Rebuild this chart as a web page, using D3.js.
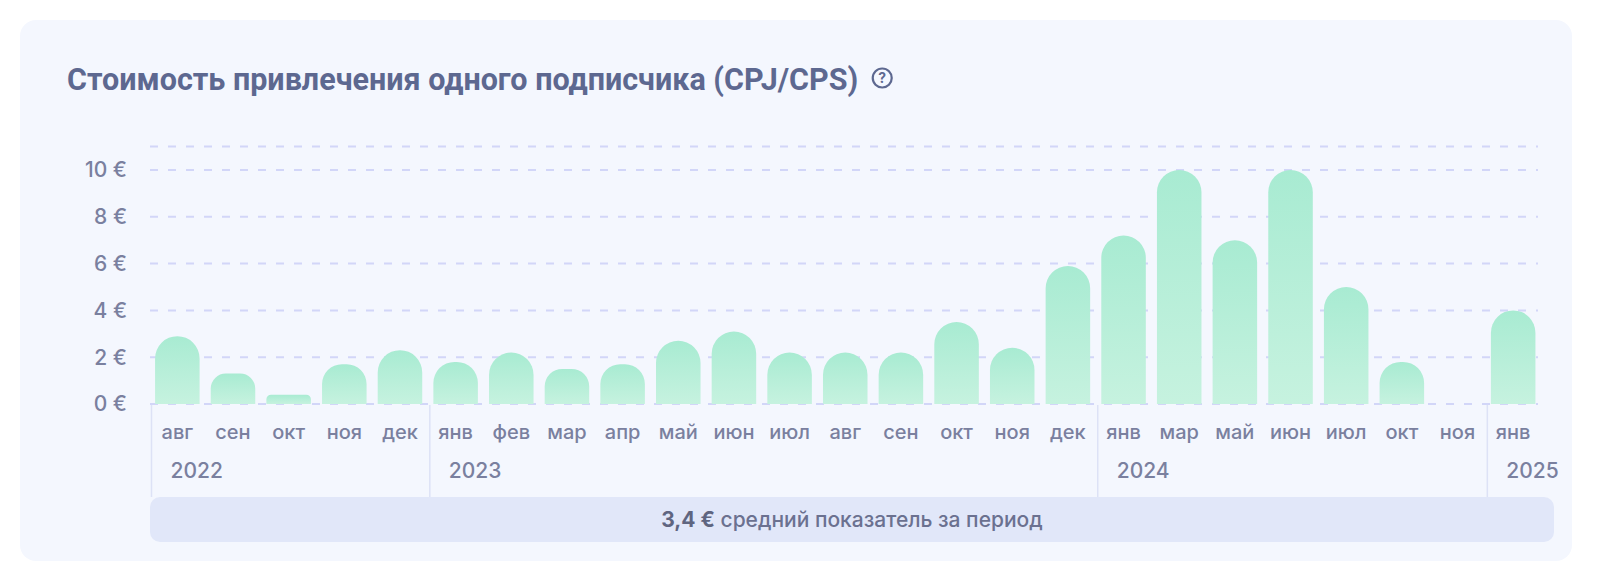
<!DOCTYPE html>
<html>
<head>
<meta charset="utf-8">
<script src="https://cdn.jsdelivr.net/npm/d3@7"></script>
<style>
  html, body { margin: 0; padding: 0; background: #ffffff; }
  #chart { width: 1600px; height: 576px; }
</style>
</head>
<body>
<div id="chart"></div>
<script>
// month labels, the year each one belongs to, and the CPJ/CPS value in euros
const months = ["авг", "сен", "окт", "ноя", "дек",
  "янв", "фев", "мар", "апр", "май", "июн", "июл", "авг", "сен", "окт", "ноя", "дек",
  "янв", "мар", "май", "июн", "июл", "окт", "ноя",
  "янв"];
const years = ["2022", "2022", "2022", "2022", "2022",
  "2023", "2023", "2023", "2023", "2023", "2023", "2023", "2023", "2023", "2023", "2023", "2023",
  "2024", "2024", "2024", "2024", "2024", "2024", "2024",
  "2025"];
const values = [2.9, 1.3, 0.4, 1.7, 2.3,
  1.8, 2.2, 1.5, 1.7, 2.7, 3.1, 2.2, 2.2, 2.2, 3.5, 2.4, 5.9,
  7.2, 10.0, 7.0, 10.0, 5.0, 1.8, 0,
  4.0];
const yTicks = [0, 2, 4, 6, 8, 10];
const yMax = 11;

const title = "Стоимость привлечения одного подписчика (CPJ/CPS)";
const avgLabel = "средний показатель за период";

const width = 1600;
const height = 576;
const font = "Inter, 'Open Sans', sans-serif";
const textColor = "#7a809f";

const data = months.map((m, i) => ({ i, month: m, year: years[i], value: values[i] }));

const svg = d3.select("#chart")
  .append("svg")
  .attr("width", width)
  .attr("height", height);

const defs = svg.append("defs");
const grad = defs.append("linearGradient")
  .attr("id", "barGrad")
  .attr("x1", 0).attr("y1", 0)
  .attr("x2", 0).attr("y2", 1);
grad.append("stop").attr("offset", "0%").attr("stop-color", "#a8ebd2");
grad.append("stop").attr("offset", "100%").attr("stop-color", "#c6f2df");

// card
svg.append("rect")
  .attr("x", 20)
  .attr("y", 20)
  .attr("width", 1552)
  .attr("height", 541)
  .attr("rx", 16)
  .attr("fill", "#f4f7fe");

// title + help icon
const titleText = svg.append("text")
  .attr("x", 67)
  .attr("y", 90)
  .attr("font-family", "Roboto, sans-serif")
  .attr("font-size", "30.5px")
  .attr("font-weight", "700")
  .attr("fill", "#5d6890")
  .text(title);

const tw = titleText.node().getComputedTextLength();
const help = svg.append("g")
  .attr("transform", "translate(" + (67 + tw + 24) + ",78)");
help.append("circle")
  .attr("r", 9.5)
  .attr("fill", "none")
  .attr("stroke", "#5d6890")
  .attr("stroke-width", 2.2);
help.append("text")
  .attr("y", 5)
  .attr("text-anchor", "middle")
  .attr("font-family", font)
  .attr("font-size", "14px")
  .attr("font-weight", "700")
  .attr("fill", "#5d6890")
  .text("?");

const x = d3.scaleBand()
  .domain(data.map(d => d.i))
  .range([149.5, 1541])
  .paddingInner(0.2)
  .paddingOuter(0.1);

const y = d3.scaleLinear()
  .domain([0, yMax])
  .range([404, 146.6]);

const step = x.step();
const bw = x.bandwidth();
const gap = (step - bw) / 2;

// dashed grid
svg.append("g")
  .selectAll("line")
  .data(yTicks.concat([yMax]))
  .join("line")
  .attr("x1", 150)
  .attr("x2", 1538)
  .attr("y1", d => y(d))
  .attr("y2", d => y(d))
  .attr("stroke", "#d2d6f8")
  .attr("stroke-width", 2)
  .attr("stroke-dasharray", "8,10");

// y labels
svg.append("g")
  .selectAll("text")
  .data(yTicks)
  .join("text")
  .attr("x", 127)
  .attr("y", d => y(d))
  .attr("dy", "0.35em")
  .attr("text-anchor", "end")
  .attr("font-family", font)
  .attr("font-size", "21px")
  .attr("font-weight", "500")
  .attr("fill", textColor)
  .text(d => d + " €");

// bars with rounded tops
function barPath(d) {
  const x0 = x(d.i);
  const y0 = y(0);
  const yt = y(d.value);
  const h = y0 - yt;
  if (h <= 0) return null;
  const r = Math.min(bw / 2, h / 2);
  return "M" + x0 + "," + y0 +
    "V" + (yt + r) +
    "A" + r + "," + r + " 0 0 1 " + (x0 + r) + "," + yt +
    "H" + (x0 + bw - r) +
    "A" + r + "," + r + " 0 0 1 " + (x0 + bw) + "," + (yt + r) +
    "V" + y0 + "Z";
}

svg.append("g")
  .selectAll("path")
  .data(data.filter(d => d.value > 0))
  .join("path")
  .attr("d", barPath)
  .attr("fill", "url(#barGrad)");

// month labels
svg.append("g")
  .selectAll("text")
  .data(data)
  .join("text")
  .attr("x", d => x(d.i) + bw / 2)
  .attr("y", 439)
  .attr("text-anchor", "middle")
  .attr("font-family", font)
  .attr("font-size", "20px")
  .attr("font-weight", "500")
  .attr("fill", textColor)
  .text(d => d.month);

// year groups: separator at the first month of each year + year label
const yearStarts = data.filter((d, i) => i === 0 || d.year !== data[i - 1].year);

svg.append("g")
  .selectAll("line")
  .data(yearStarts)
  .join("line")
  .attr("x1", d => x(d.i) - gap + 2)
  .attr("x2", d => x(d.i) - gap + 2)
  .attr("y1", 405)
  .attr("y2", 497)
  .attr("stroke", "#dde2f6")
  .attr("stroke-width", 1.5);

svg.append("g")
  .selectAll("text")
  .data(yearStarts)
  .join("text")
  .attr("x", d => x(d.i) - gap + 21)
  .attr("y", 478)
  .attr("font-family", font)
  .attr("font-size", "21px")
  .attr("font-weight", "500")
  .attr("fill", textColor)
  .text(d => d.year);

// average band
const avg = d3.mean(values);
svg.append("rect")
  .attr("x", 150)
  .attr("y", 497)
  .attr("width", 1404)
  .attr("height", 45)
  .attr("rx", 10)
  .attr("fill", "#e1e7f9");

const avgText = svg.append("text")
  .attr("x", 852)
  .attr("y", 527)
  .attr("text-anchor", "middle")
  .attr("font-family", font)
  .attr("font-size", "21px")
  .attr("font-weight", "500")
  .attr("fill", "#6b7190");
avgText.append("tspan")
  .attr("font-weight", "700")
  .attr("fill", "#5f6580")
  .text(avg.toFixed(1).replace(".", ",") + " €");
avgText.append("tspan")
  .text(" " + avgLabel);
</script>
</body>
</html>
